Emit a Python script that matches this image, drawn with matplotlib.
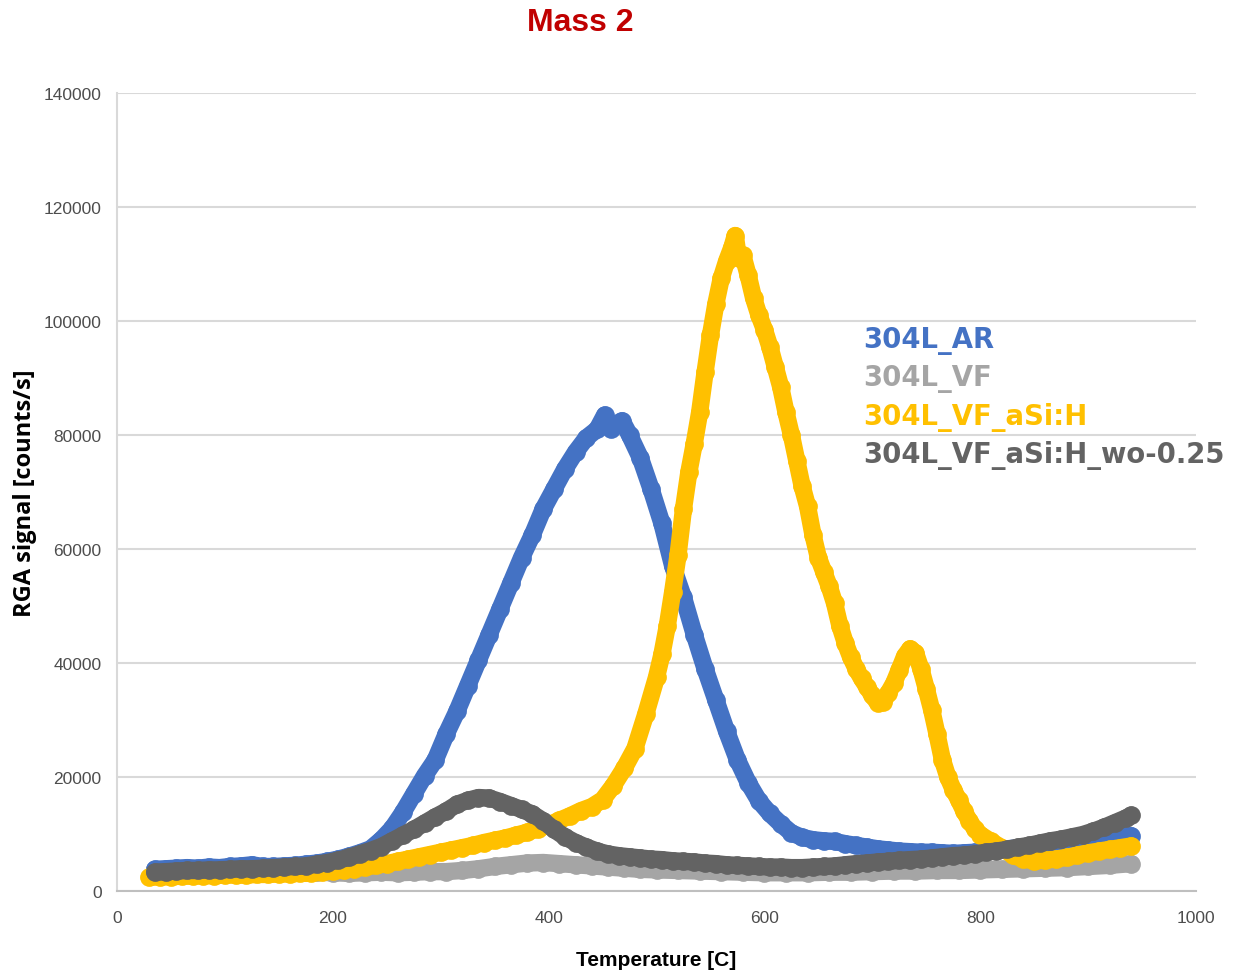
import matplotlib.pyplot as plt

# temperature ramp [C] and RGA signal [counts/s] for mass 2
t_ar = [35, 45, 55, 65, 75, 85, 95, 105, 115, 125, 135, 145, 155, 165, 175, 185, 195,
        205, 215, 225, 235, 245, 255, 265, 275, 285, 295, 305, 315, 325, 335, 345,
        355, 365, 375, 385, 395, 405, 415, 425, 435, 445, 452, 458, 463, 468, 475,
        485, 495, 505, 515, 525, 535, 545, 555, 565, 575, 585, 595, 605, 615, 625,
        635, 645, 655, 665, 675, 685, 695, 705, 715, 725, 735, 745, 755, 765, 775,
        785, 795, 805, 815, 825, 835, 845, 855, 865, 875, 885, 895, 905, 915, 925,
        935, 940]
ar = [3800, 3900, 4000, 4100, 4000, 4200, 4100, 4300, 4400, 4600, 4300, 4300, 4400,
      4500, 4700, 4900, 5200, 5600, 6100, 6700, 7400, 9000, 11000, 13800, 17000,
      20200, 23000, 27500, 31500, 36000, 40500, 45000, 49500, 54000, 58500, 62500,
      67000, 70500, 74000, 77000, 79500, 81000, 83500, 81000, 82000, 82500, 80000,
      76000, 70500, 64500, 57000, 51500, 45000, 39000, 33500, 28000, 23000, 19000,
      15800, 13600, 11800, 10200, 9400, 9000, 8800, 8700, 8300, 8000, 7700, 7400,
      7200, 7000, 6900, 6800, 6800, 6700, 6600, 6700, 6800, 7000, 7200, 7400, 7600,
      7800, 8000, 8200, 8400, 8600, 8800, 9000, 9200, 9400, 9600, 9700]

t_vf = [35, 50, 65, 80, 95, 110, 125, 140, 155, 170, 185, 200, 215, 230, 245, 260,
        275, 290, 305, 320, 335, 350, 365, 380, 395, 410, 425, 440, 455, 470, 485,
        500, 520, 540, 560, 580, 600, 620, 640, 660, 680, 700, 720, 740, 760, 780,
        800, 820, 840, 860, 880, 900, 920, 940]
vf = [3000, 3100, 3100, 3200, 3200, 3300, 3300, 3300, 3400, 3400, 3300, 3200, 3100,
      3200, 3300, 3200, 3300, 3400, 3400, 3600, 3900, 4300, 4600, 4900, 5000, 4800,
      4600, 4400, 4200, 4000, 3800, 3700, 3600, 3500, 3400, 3300, 3200, 3200, 3200,
      3300, 3300, 3400, 3500, 3500, 3600, 3600, 3700, 3800, 3900, 4000, 4100, 4300,
      4500, 4800]

t_asi = [30, 40, 50, 60, 70, 80, 90, 100, 110, 120, 130, 140, 150, 160, 170, 180,
         190, 200, 210, 220, 230, 240, 250, 260, 270, 280, 290, 300, 310, 320, 330,
         340, 350, 360, 370, 380, 390, 400, 410, 420, 430, 440, 450, 460, 470, 480,
         490, 500, 505, 510, 515, 520, 525, 530, 535, 540, 545, 550, 555, 560, 565,
         570, 573, 576, 580, 585, 590, 595, 600, 605, 610, 615, 620, 625, 630, 635,
         640, 645, 650, 655, 660, 665, 670, 675, 680, 685, 690, 695, 700, 705, 710,
         715, 720, 725, 730, 735, 740, 745, 750, 755, 760, 765, 770, 775, 780, 785,
         790, 795, 800, 810, 820, 830, 840, 850, 860, 870, 880, 890, 900, 910, 920,
         930, 940]
asi = [2400, 2500, 2500, 2600, 2600, 2700, 2700, 2800, 2800, 2800, 2900, 2900, 3000,
       3000, 3100, 3100, 3300, 3500, 3700, 3900, 4200, 4500, 4800, 5200, 5600, 6000,
       6400, 6800, 7200, 7600, 8000, 8500, 8900, 9300, 9800, 10300, 10900, 11600,
       12400, 13200, 14100, 14800, 16000, 18500, 21500, 25000, 31000, 37500, 41500,
       46500, 52500, 59000, 67000, 73500, 78500, 84000, 91000, 97500, 103000,
       107500, 110500, 113000, 115000, 111000, 111500, 108000, 104000, 101000,
       98500, 95500, 92000, 88500, 84000, 80000, 75500, 71000, 67500, 62500, 58500,
       56000, 53500, 50500, 46500, 43500, 41000, 39000, 37300, 35800, 34300, 33000,
       33200, 34800, 36500, 38800, 41200, 42500, 41800, 39000, 35500, 31800, 27500,
       23000, 20000, 17800, 16000, 14000, 12300, 10900, 9900, 8700, 7600, 6300, 5600,
       5300, 5400, 5600, 5900, 6300, 6700, 7000, 7300, 7600, 7900]

t_wo = [35, 45, 55, 65, 75, 85, 95, 105, 115, 125, 135, 145, 155, 165, 175, 185, 195,
        205, 215, 225, 235, 245, 255, 265, 275, 285, 295, 305, 315, 325, 335, 345,
        355, 365, 375, 385, 395, 405, 415, 425, 435, 445, 455, 465, 475, 485, 495,
        505, 515, 525, 535, 545, 555, 565, 575, 585, 595, 605, 615, 625, 635, 645,
        655, 665, 675, 685, 695, 705, 715, 725, 735, 745, 755, 765, 775, 785, 795,
        805, 815, 825, 835, 845, 855, 865, 875, 885, 895, 905, 915, 925, 935, 940]
wo = [3300, 3400, 3500, 3600, 3600, 3700, 3700, 3800, 3900, 3900, 4000, 4100, 4200,
      4300, 4400, 4700, 5000, 5400, 5900, 6500, 7100, 7800, 8800, 9800, 10800, 11900,
      13000, 14000, 15200, 15900, 16400, 16300, 15700, 15000, 14300, 13500, 12300,
      10800, 9500, 8500, 7700, 7000, 6500, 6200, 6000, 5800, 5600, 5500, 5300, 5200,
      5100, 4900, 4800, 4600, 4500, 4400, 4300, 4200, 4200, 4100, 4100, 4200, 4300,
      4400, 4600, 4800, 4900, 5100, 5200, 5400, 5500, 5600, 5800, 6000, 6200, 6300,
      6500, 6800, 7000, 7300, 7700, 8000, 8400, 8800, 9100, 9500, 9900, 10500, 11200,
      12000, 12800, 13300]

names = ['304L_AR', '304L_VF', '304L_VF_aSi:H', '304L_VF_aSi:H_wo-0.25']
colors = ['#4472C4', '#A5A5A5', '#FFC000', '#636363']
series = [(t_ar, ar), (t_vf, vf), (t_asi, asi), (t_wo, wo)]

sans = ['Liberation Sans', 'DejaVu Sans']

fig = plt.figure(figsize=(12.33, 9.78), dpi=100)
ax = fig.add_axes([117 / 1233, 1 - 892 / 978, 1079 / 1233, 798 / 978])

for (t, v), c in zip(series, colors):
    ax.plot(t, v, '-o', color=c, lw=12.5, ms=13.5, mew=0,
            solid_joinstyle='round', solid_capstyle='round')

ax.set_xlim(0, 1000)
ax.set_ylim(0, 140000)
ax.set_xticks(range(0, 1001, 200))
ax.set_yticks(range(0, 140001, 20000))
ax.grid(axis='y', color='#D9D9D9', lw=1.5)
ax.set_axisbelow(True)
for s in ['top', 'right']:
    ax.spines[s].set_visible(False)
ax.spines['left'].set_color('#D9D9D9')
ax.spines['left'].set_linewidth(1.5)
ax.spines['bottom'].set_color('#BFBFBF')
ax.spines['bottom'].set_linewidth(1.5)
ax.tick_params(length=0, labelsize=12.5, labelcolor='#4D4D4D')
ax.tick_params(axis='y', pad=11)
ax.tick_params(axis='x', pad=14)
for lab in ax.get_xticklabels() + ax.get_yticklabels():
    lab.set_family(sans)

fig.text(580 / 1233, 1 - 23 / 978, 'Mass 2', ha='center', va='center',
         color='#C00000', fontsize=23, fontweight='bold', family=sans)
fig.text(656 / 1233, 1 - 961 / 978, 'Temperature [C]', ha='center', va='center',
         fontsize=15, fontweight='bold', family=sans)
fig.text(25 / 1233, 1 - 493 / 978, 'RGA signal [counts/s]', rotation=90,
         ha='center', va='center', fontsize=17, fontweight='bold',
         family=['Open Sans', 'DejaVu Sans'])

# series names as coloured labels
for i, (n, c) in enumerate(zip(names, colors)):
    fig.text(863 / 1233, 1 - (341 + 38.3 * i) / 978, n, ha='left', va='center',
             color=c, fontsize=19.8, fontweight='bold', family='DejaVu Sans')

fig.savefig('out.png', dpi=100)
